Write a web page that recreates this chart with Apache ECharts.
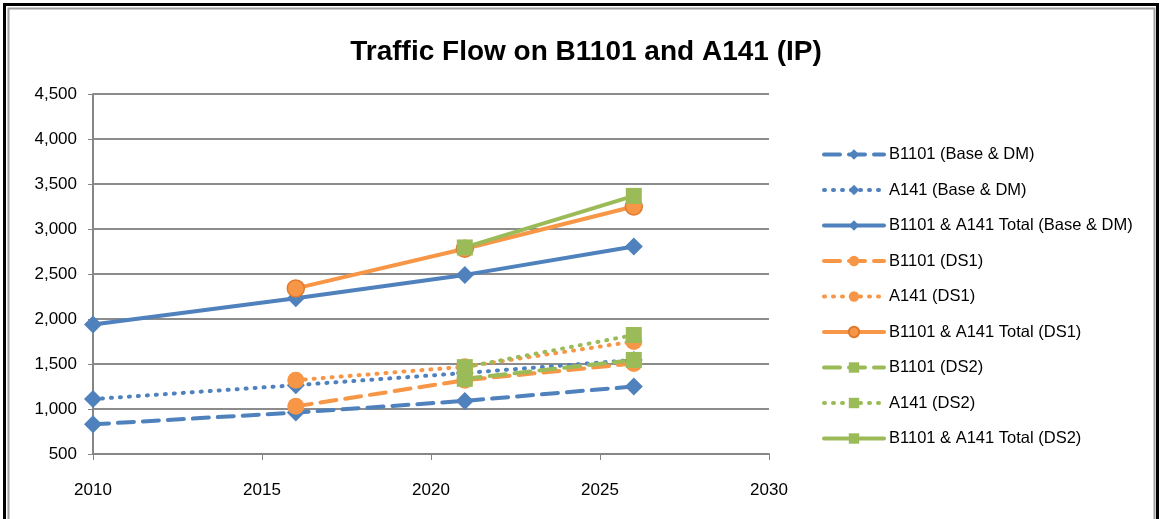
<!DOCTYPE html>
<html><head><meta charset="utf-8">
<script src="https://cdn.jsdelivr.net/npm/echarts@6/dist/echarts.min.js"></script>
<style>html,body{margin:0;padding:0;background:#fff}#c{width:1160px;height:519px}</style>
</head><body><div id="c"></div>
<script>
const title = 'Traffic Flow on B1101 and A141 (IP)';
const yearsBase = [2010, 2016, 2021, 2026];
const yearsDS1 = [2016, 2021, 2026];
const yearsDS2 = [2021, 2026];
const b1101Base = [830, 960, 1090, 1250];
const a141Base = [1110, 1265, 1400, 1545];
const totalBase = [1940, 2230, 2490, 2805];
const b1101DS1 = [1030, 1320, 1505];
const a141DS1 = [1320, 1470, 1750];
const totalDS1 = [2340, 2780, 3250];
const b1101DS2 = [1335, 1545];
const a141DS2 = [1465, 1822];
const totalDS2 = [2795, 3368];
const names = ['B1101 (Base & DM)','A141 (Base & DM)','B1101 & A141 Total (Base & DM)',
  'B1101 (DS1)','A141 (DS1)','B1101 & A141 Total (DS1)',
  'B1101 (DS2)','A141 (DS2)','B1101 & A141 Total (DS2)'];
const xTicks = {min: 2010, max: 2030, interval: 5};
const yTicks = {min: 500, max: 4500, interval: 500};

const BLUE = '#4F81BD', ORANGE = '#F79646', GREEN = '#9BBB59';
const zip = (xs, ys) => xs.map((x, i) => [x, ys[i]]);
const DASH = [16, 9], DOT = [1, 8];
function mk(name, xs, ys, color, dash, symbol, size, border) {
  return {
    name, type: 'line', data: zip(xs, ys), symbol, symbolSize: size,
    lineStyle: {color, width: 4, type: dash, cap: 'round'},
    itemStyle: {color, borderColor: border || color, borderWidth: border ? 1.5 : 0},
    emphasis: {disabled: true}, animation: false
  };
}
const series = [
  mk(names[0], yearsBase, b1101Base, BLUE, DASH, 'diamond', 18),
  mk(names[1], yearsBase, a141Base, BLUE, DOT, 'diamond', 18),
  mk(names[2], yearsBase, totalBase, BLUE, 'solid', 'diamond', 18),
  mk(names[3], yearsDS1, b1101DS1, ORANGE, DASH, 'circle', 17),
  mk(names[4], yearsDS1, a141DS1, ORANGE, DOT, 'circle', 17),
  mk(names[5], yearsDS1, totalDS1, ORANGE, 'solid', 'circle', 17, '#E07B2E'),
  mk(names[6], yearsDS2, b1101DS2, GREEN, DASH, 'rect', 16),
  mk(names[7], yearsDS2, a141DS2, GREEN, DOT, 'rect', 16),
  mk(names[8], yearsDS2, totalDS2, GREEN, 'solid', 'rect', 16)
];
const chart = echarts.init(document.getElementById('c'), null, {renderer: 'canvas'});
const FONT = 'Liberation Sans';
chart.setOption({
  backgroundColor: '#fff',
  animation: false,
  title: {text: title, left: 581, top: 33, textAlign: 'center',
    textStyle: {fontFamily: FONT, fontSize: 28, fontWeight: 'bold', color: '#000'}},
  grid: {left: 93, right: 391, top: 94, bottom: 65},
  legend: {orient: 'vertical', left: 817, top: 141, itemGap: 18.5, itemWidth: 60, itemHeight: 13,
    data: names, lineStyle: {width: 4}, textStyle: {fontFamily: FONT, fontSize: 16.5, color: '#000'},
    selectedMode: false},
  xAxis: {type: 'value', min: xTicks.min, max: xTicks.max, interval: xTicks.interval,
    axisLine: {lineStyle: {color: '#868686', width: 2}},
    axisTick: {show: true, length: 6, lineStyle: {color: '#868686', width: 1}},
    axisLabel: {fontFamily: FONT, fontSize: 17, color: '#000', margin: 28, formatter: v => String(v)},
    splitLine: {show: false}},
  yAxis: {type: 'value', min: yTicks.min, max: yTicks.max, interval: yTicks.interval,
    axisLine: {show: true, lineStyle: {color: '#868686', width: 2}},
    axisTick: {show: true, length: 5, lineStyle: {color: '#868686'}},
    axisLabel: {fontFamily: FONT, fontSize: 17, color: '#000', margin: 16,
      formatter: v => v.toLocaleString('en-US')},
    splitLine: {lineStyle: {color: '#8C8C8C', width: 2}}},
  graphic: [
    {type: 'rect', shape: {x: 4.5, y: 4.5, width: 1153, height: 600}, style: {fill: 'none', stroke: '#000', lineWidth: 3}, silent: true},
    {type: 'rect', shape: {x: 8.5, y: 8.5, width: 1146, height: 600}, style: {fill: 'none', stroke: '#A0A0A0', lineWidth: 2}, silent: true}
  ],
  series
});
</script></body></html>
